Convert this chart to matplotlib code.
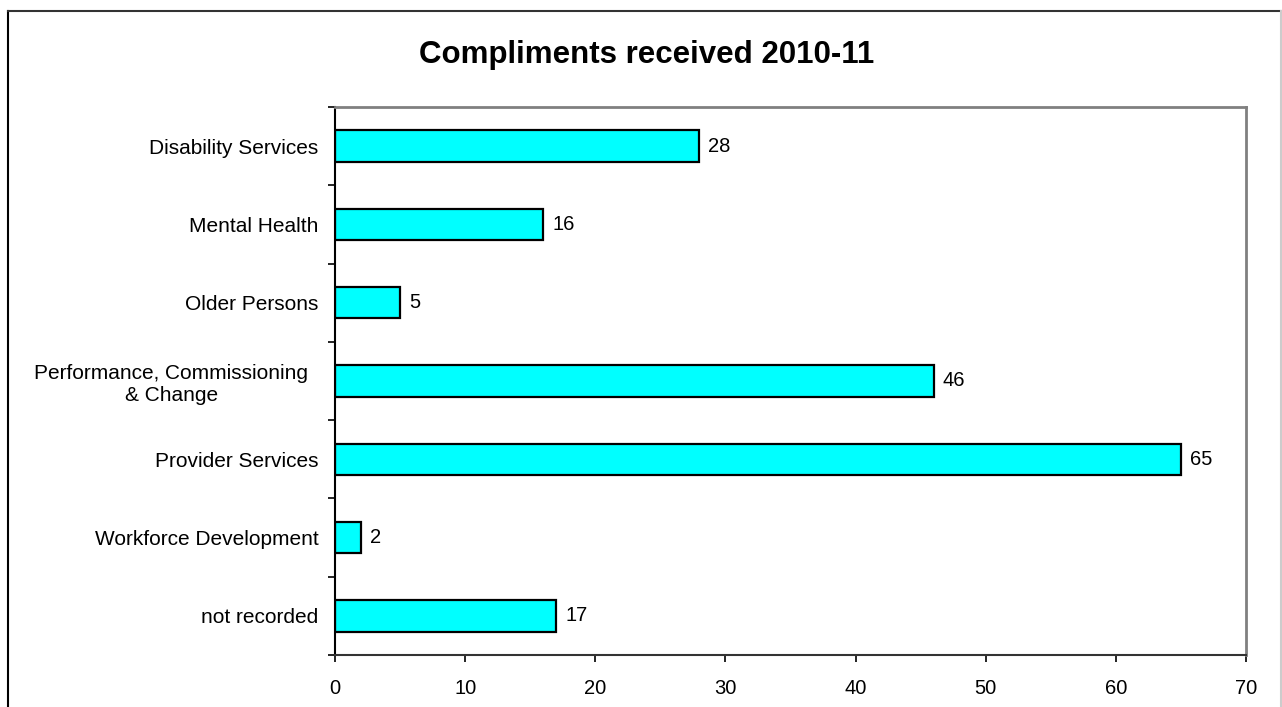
import matplotlib.pyplot as plt
from matplotlib.lines import Line2D
from matplotlib.transforms import ScaledTranslation

categories = ["Disability Services", "Mental Health", "Older Persons",
              "Performance, Commissioning\n& Change", "Provider Services",
              "Workforce Development", "not recorded"]
values = [28, 16, 5, 46, 65, 2, 17]

plt.rcParams["font.family"] = ["Liberation Sans", "DejaVu Sans"]

fig = plt.figure(figsize=(12.82, 7.07), dpi=100)
ax = fig.add_axes([335 / 1282, 52 / 707, 911 / 1282, 548 / 707])

pos = list(range(len(categories)))
ax.barh(pos, values, height=0.4, color="#00ffff", edgecolor="black", linewidth=1.6)

for p, v in zip(pos, values):
    ax.annotate(str(v), (v, p), xytext=(6.5, 0), textcoords="offset points",
                va="center", ha="left", fontsize=14.5)

ax.set_xlim(0, 70)
ax.set_ylim(len(categories) - 0.5, -0.5)
ax.set_xticks(range(0, 71, 10))
ax.set_yticks(pos)
ax.set_yticklabels(categories, fontsize=15)
ax.tick_params(axis="y", length=0, pad=12)
ax.tick_params(axis="x", labelsize=14.5, length=5, width=1.2, pad=12)
ax.set_yticks([i - 0.5 for i in range(len(categories) + 1)], minor=True)
ax.tick_params(axis="y", which="minor", length=5, width=1.2)

for label in ax.get_yticklabels():
    label.set_multialignment("center")
    if "\n" in label.get_text():
        label.set_transform(label.get_transform() + ScaledTranslation(-0.1, 0, fig.dpi_scale_trans))

ax.spines["left"].set_color("black")
ax.spines["bottom"].set_color("#333333")
ax.spines["left"].set_linewidth(1.5)
ax.spines["bottom"].set_linewidth(1.5)
ax.spines["top"].set_color("#808080")
ax.spines["right"].set_color("#808080")
ax.spines["top"].set_linewidth(2)
ax.spines["right"].set_linewidth(2)

fig.text(647 / 1282, 1 - 63 / 707, "Compliments received 2010-11",
         ha="center", va="baseline", fontsize=22.5, fontweight="bold")

# outer chart border
W, H = 1282, 707
fig.add_artist(Line2D([7.5 / W, 7.5 / W], [0, 1 - 10.5 / H], color="black", lw=1.5))
fig.add_artist(Line2D([7.5 / W, 1281 / W], [1 - 10.5 / H, 1 - 10.5 / H], color="#333333", lw=1.5))
fig.add_artist(Line2D([1281 / W, 1281 / W], [0, 1 - 10.5 / H], color="#cccccc", lw=1.5))

fig.savefig("out.png", dpi=100)
